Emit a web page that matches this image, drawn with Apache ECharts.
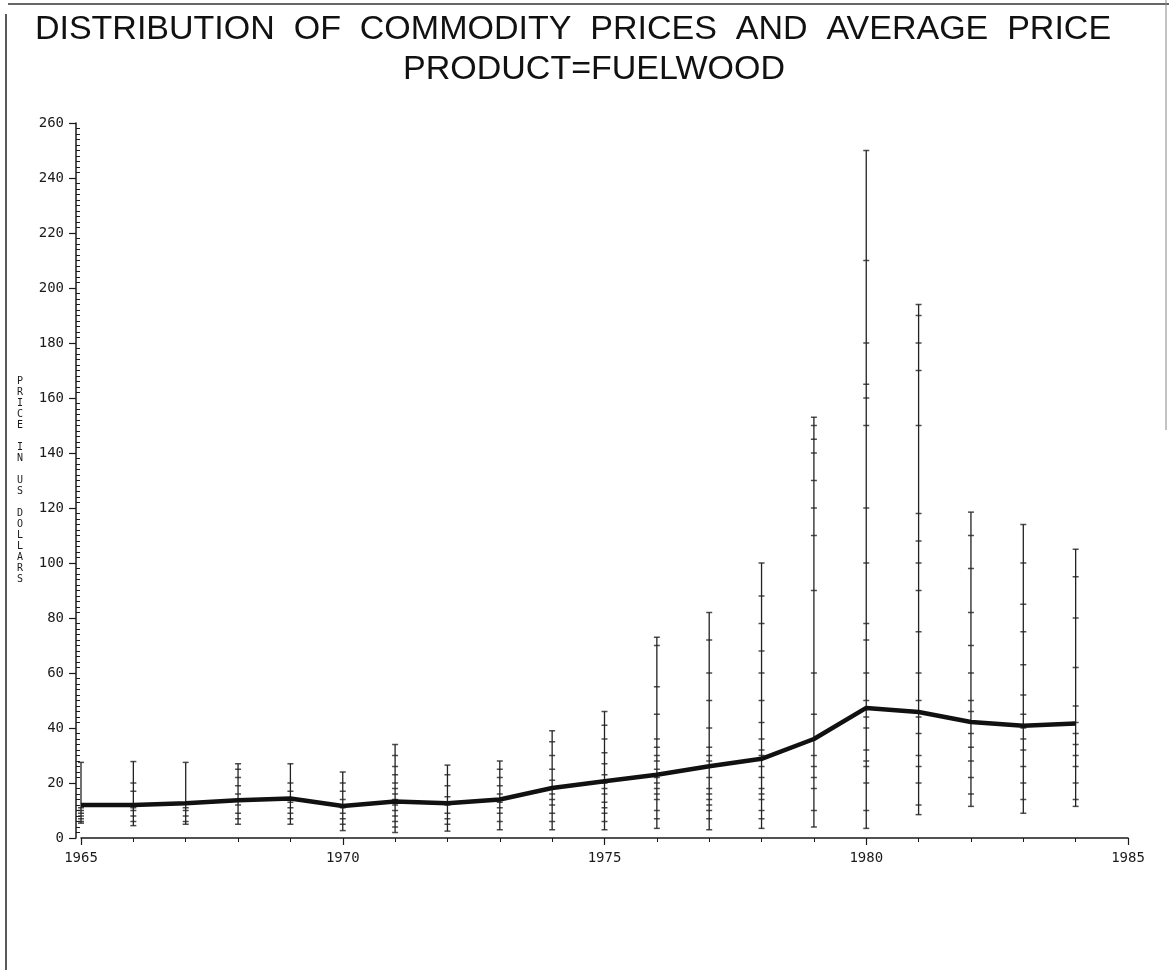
<!DOCTYPE html>
<html>
<head>
<meta charset="utf-8">
<script src="https://cdn.jsdelivr.net/npm/echarts@6/dist/echarts.min.js"></script>
<style>
  html, body { margin: 0; padding: 0; background: #fff; }
  #chart { width: 1169px; height: 970px; }
</style>
</head>
<body>
<div id="chart"></div>
<script>
// ---- data ----
const titleText = 'DISTRIBUTION  OF  COMMODITY  PRICES  AND  AVERAGE  PRICE';
const subtitleText = 'PRODUCT=FUELWOOD';
const yAxisTitle = 'PRICE IN US DOLLARS';

const years = [1965, 1966, 1967, 1968, 1969, 1970, 1971, 1972, 1973, 1974,
               1975, 1976, 1977, 1978, 1979, 1980, 1981, 1982, 1983, 1984];

const averagePrice = [12, 12, 12.6, 13.7, 14.4, 11.6, 13.3, 12.6, 14, 18.2,
                      20.6, 23, 26.1, 28.8, 36, 47.3, 45.8, 42.2, 40.8, 41.6];

// individual observed prices for each year (same order as years)
const observedPrices = [
  [5.4, 6, 7, 8, 9, 10, 11, 27.5],
  [4.5, 6, 8, 10, 11, 17, 20, 27.8],
  [5, 6, 8, 10, 11, 27.5],
  [5, 7, 9, 12, 14, 16, 19, 22, 25, 27],
  [5, 7, 9, 11, 13, 17, 20, 27],
  [2.7, 5, 7, 9, 11, 14, 17, 20, 24],
  [2, 4, 6, 8, 10, 12, 14, 16, 18, 20, 23, 26, 30, 34],
  [2.5, 5, 7, 9, 12, 15, 19, 23, 26.5],
  [3, 6, 9, 11, 13, 16, 19, 22, 25, 28],
  [3, 6, 9, 12, 14, 16, 18, 21, 25, 30, 35, 39],
  [3, 6, 9, 11, 13, 16, 18, 20, 23, 27, 31, 36, 41, 46],
  [3.5, 7, 10, 14, 16, 18, 20, 22, 25, 28, 30, 33, 36, 45, 55, 70, 73],
  [3, 7, 10, 12, 14, 16, 18, 22, 26, 28, 30, 33, 40, 50, 60, 72, 82],
  [3.5, 7, 10, 14, 16, 18, 22, 26, 30, 32, 36, 42, 50, 60, 68, 78, 88, 100],
  [4, 10, 18, 22, 26, 30, 36, 45, 60, 90, 110, 120, 130, 140, 145, 150, 153],
  [3.5, 10, 20, 26, 28, 32, 40, 44, 50, 60, 72, 78, 100, 120, 150, 160, 165, 180, 210, 250],
  [8.5, 12, 20, 26, 30, 38, 44, 50, 60, 75, 90, 100, 108, 118, 150, 170, 180, 190, 194],
  [11.5, 16, 22, 28, 33, 38, 42, 46, 50, 60, 70, 82, 98, 110, 118.5],
  [9, 14, 20, 26, 32, 36, 40, 45, 52, 63, 75, 85, 100, 114],
  [11.5, 14, 20, 26, 30, 34, 38, 42, 48, 62, 80, 95, 105]
];

const xMin = 1965, xMax = 1985, xStep = 5;
const yMin = 0, yMax = 260, yStep = 20;

// ---- build series data from the arrays ----
const rangeData = years.map((y, i) => [y, Math.min(...observedPrices[i]), Math.max(...observedPrices[i])]);
const pointData = [];
years.forEach((y, i) => observedPrices[i].forEach(v => pointData.push([y, v])));
const avgData = years.map((y, i) => [y, averagePrice[i]]);

const monoFont = 'DejaVu Sans Mono';
const ink = '#1a1a1a';

const chart = echarts.init(document.getElementById('chart'), null, { renderer: 'canvas' });
chart.setOption({
  animation: false,
  backgroundColor: '#ffffff',
  title: [
    { text: titleText, left: 568, top: 8, textAlign: 'center',
      textStyle: { fontFamily: 'Liberation Sans', fontSize: 34, fontWeight: 'normal', color: '#111' } },
    { text: subtitleText, left: 589, top: 48, textAlign: 'center',
      textStyle: { fontFamily: 'Liberation Sans', fontSize: 34, fontWeight: 'normal', color: '#111' } }
  ],
  grid: { left: 81, right: 41, top: 123, bottom: 132, containLabel: false },
  xAxis: {
    type: 'value', min: xMin, max: xMax, interval: xStep,
    axisLine: { show: true, onZero: false, lineStyle: { color: ink, width: 1.5 } },
    axisTick: { show: true, length: 7, lineStyle: { color: ink, width: 1.2 } },
    minorTick: { show: true, splitNumber: 5, length: 4, lineStyle: { color: ink, width: 1 } },
    splitLine: { show: false },
    axisLabel: { formatter: v => String(v), fontFamily: monoFont, fontSize: 14, color: ink, margin: 13 }
  },
  yAxis: [
    {
      type: 'value', min: yMin, max: yMax, interval: yStep, offset: 5,
      name: yAxisTitle.split('').join('\n'),
      nameLocation: 'middle', nameGap: 53, nameRotate: 0,
      nameTextStyle: { fontFamily: monoFont, fontSize: 10, lineHeight: 11, color: ink },
      axisLine: { show: true, lineStyle: { color: ink, width: 1.5 } },
      axisTick: { show: true, length: 7, lineStyle: { color: ink, width: 1.2 } },
      splitLine: { show: false },
      axisLabel: { fontFamily: monoFont, fontSize: 14, color: ink, margin: 12 }
    },
    {
      type: 'value', min: yMin, max: yMax, interval: yStep, position: 'left', offset: 5,
      axisLine: { show: false },
      axisTick: { show: false, inside: true },
      axisLabel: { show: false },
      splitLine: { show: false },
      minorTick: { show: true, splitNumber: 10, length: 4, lineStyle: { color: ink, width: 1 } }
    }
  ],
  series: [
    {
      type: 'custom',
      name: 'range',
      data: rangeData,
      encode: { x: 0, y: [1, 2] },
      renderItem: function (params, api) {
        const lo = api.coord([api.value(0), api.value(1)]);
        const hi = api.coord([api.value(0), api.value(2)]);
        return {
          type: 'line',
          shape: { x1: lo[0], y1: lo[1], x2: hi[0], y2: hi[1] },
          style: { stroke: '#222', lineWidth: 1.3 }
        };
      },
      z: 2
    },
    {
      type: 'scatter',
      name: 'prices',
      data: pointData,
      symbol: 'rect',
      symbolSize: [6, 1.5],
      itemStyle: { color: '#222' },
      z: 3
    },
    {
      type: 'line',
      name: 'average',
      data: avgData,
      symbol: 'none',
      lineStyle: { color: '#111', width: 4.5 },
      z: 4
    }
  ],
  graphic: [
    { type: 'line', shape: { x1: 8, y1: 4, x2: 1169, y2: 4 }, style: { stroke: '#333', lineWidth: 1.5 } },
    { type: 'line', shape: { x1: 6, y1: 14, x2: 6, y2: 970 }, style: { stroke: '#222', lineWidth: 1.5 } },
    { type: 'line', shape: { x1: 1166, y1: 0, x2: 1166, y2: 430 }, style: { stroke: '#888', lineWidth: 1 } }
  ]
});
</script>
</body>
</html>
